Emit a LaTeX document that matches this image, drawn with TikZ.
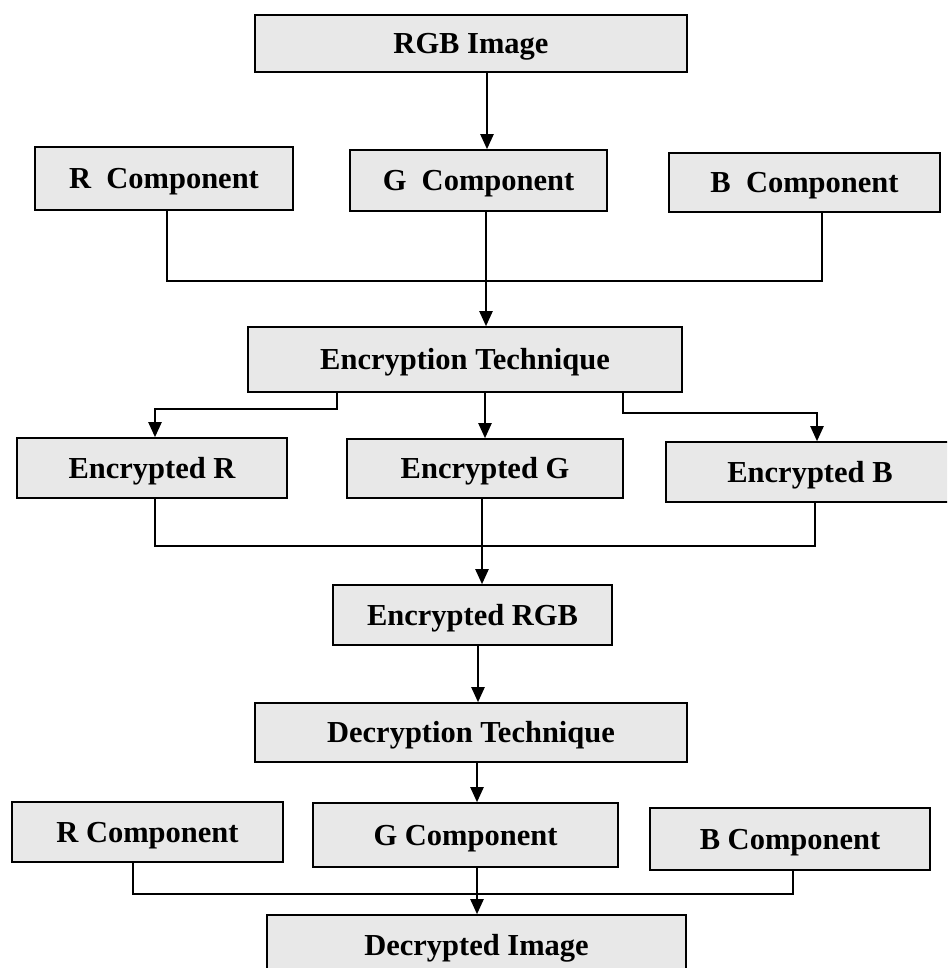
\documentclass[tikz,border=0pt]{standalone}
\usepackage{fontspec}
\setmainfont{Liberation Serif}
\usetikzlibrary{arrows.meta}
\tikzset{
  box/.style={draw=black, line width=1.6pt, fill=black!9, inner sep=0pt,
    text height=27pt, text depth=7pt,
    font=\fontsize{30.5}{36}\selectfont\bfseries},
  link/.style={line width=2.2pt, line join=miter},
  arr/.style={link, -{Triangle[length=15pt,width=13pt]}},
}
\begin{document}
\begin{tikzpicture}[x=1pt,y=-1pt]
\useasboundingbox (0,0) rectangle (947,968);
\clip (0,0) rectangle (947,968);

% source image and its three channels
\node[box, minimum width=432pt, minimum height=57pt] (rgb) at (471,43.5) {RGB Image};
\node[box, minimum width=258pt, minimum height=63pt] (rc1) at (164,178.5) {R~~Component};
\node[box, minimum width=257pt, minimum height=61pt] (gc1) at (478.5,180.5) {G~~Component};
\node[box, minimum width=271pt, minimum height=59pt] (bc1) at (804.5,182.5) {B~~Component};

% encryption stage
\node[box, minimum width=434pt, minimum height=65pt] (enc) at (465,359.5) {Encryption Technique};
\node[box, minimum width=270pt, minimum height=60pt] (er) at (152,468) {Encrypted R};
\node[box, minimum width=276pt, minimum height=59pt] (eg) at (485,468.5) {Encrypted G};
\node[box, minimum width=288pt, minimum height=60pt] (eb) at (810,472) {Encrypted B};
\node[box, minimum width=279pt, minimum height=60pt] (ergb) at (472.5,615) {Encrypted RGB};

% decryption stage
\node[box, minimum width=432pt, minimum height=59pt] (dec) at (471,732.5) {Decryption Technique\hspace{20pt}};
\node[box, minimum width=271pt, minimum height=60pt] (rc2) at (147.5,832) {R Component};
\node[box, minimum width=305pt, minimum height=64pt] (gc2) at (465.5,835) {G Component};
\node[box, minimum width=280pt, minimum height=62pt] (bc2) at (790,839) {B Component};
\node[box, minimum width=419pt, minimum height=60pt] (dimg) at (476.5,945) {Decrypted Image};

% connectors
\coordinate (p1) at ([xshift=16pt]rgb.south);
\draw[arr] (p1) -- (p1 |- gc1.north);

\draw[link] ([xshift=3pt]rc1.south) -- ++(0,70) -| ([xshift=17.5pt]bc1.south);
\coordinate (p2) at ([xshift=7.5pt]gc1.south);
\draw[arr] (p2) -- (p2 |- enc.north);

\draw[arr] ([xshift=-128pt]enc.south) -- ++(0,16) -| ([xshift=3pt]er.north);
\coordinate (p3) at ([xshift=20pt]enc.south);
\draw[arr] (p3) -- (p3 |- eg.north);
\draw[arr] ([xshift=158pt]enc.south) -- ++(0,20) -| ([xshift=7pt]eb.north);

\draw[link] ([xshift=3pt]er.south) -- ++(0,47) -| ([xshift=5pt]eb.south);
\coordinate (p4) at ([xshift=-3pt]eg.south);
\draw[arr] (p4) -- (p4 |- ergb.north);

\coordinate (p5) at ([xshift=5.5pt]ergb.south);
\draw[arr] (p5) -- (p5 |- dec.north);
\coordinate (p6) at ([xshift=6pt]dec.south);
\draw[arr] (p6) -- (p6 |- gc2.north);

\draw[link] ([xshift=-14.5pt]rc2.south) -- ++(0,31) -| ([xshift=3pt]bc2.south);
\coordinate (p7) at ([xshift=11.5pt]gc2.south);
\draw[arr] (p7) -- (p7 |- dimg.north);
\end{tikzpicture}
\end{document}
